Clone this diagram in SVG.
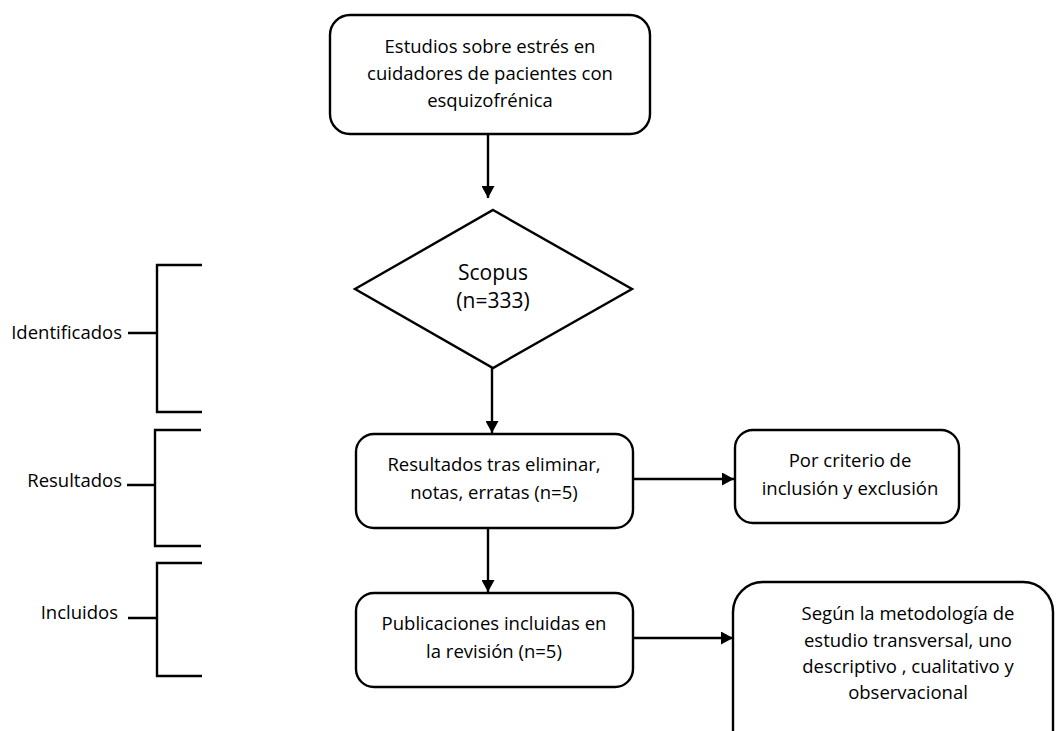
<svg xmlns="http://www.w3.org/2000/svg" width="1057" height="731" viewBox="0 0 1057 731">
<defs>
<style>
.box{fill:#fff;stroke:#000;stroke-width:2.4}
.ln{fill:none;stroke:#000;stroke-width:2.4}
.t{font-family:"Open Sans","Liberation Sans",sans-serif;font-size:18.5px;fill:#000;text-anchor:middle}
.tl{font-family:"Open Sans","Liberation Sans",sans-serif;font-size:18.5px;fill:#000;text-anchor:end}
.big{font-size:21px}
</style>
<marker id="ah" markerUnits="userSpaceOnUse" markerWidth="13" markerHeight="13" refX="12" refY="6.5" orient="auto">
<path d="M0,0 L12,6.5 L0,13 Z" fill="#000"/>
</marker>
</defs>
<rect width="1057" height="731" fill="#fff"/>

<g id="connectors">
<line class="ln" x1="488" y1="134" x2="488" y2="198" marker-end="url(#ah)"/>
<line class="ln" x1="492" y1="368" x2="492" y2="433" marker-end="url(#ah)"/>
<line class="ln" x1="633" y1="479" x2="734" y2="479" marker-end="url(#ah)"/>
<line class="ln" x1="488" y1="528" x2="488" y2="592" marker-end="url(#ah)"/>
<line class="ln" x1="633" y1="638" x2="733" y2="638" marker-end="url(#ah)"/>
</g>

<g id="bracket-identificados">
<path class="ln" d="M202,265 H157 V412 H202 M128,333 H157"/>
<text class="tl" x="122" y="339">Identificados</text>
</g>
<g id="bracket-resultados">
<path class="ln" d="M201,430 H155 V546 H201 M127,485 H155"/>
<text class="tl" x="122" y="487">Resultados</text>
</g>
<g id="bracket-incluidos">
<path class="ln" d="M202,563 H157 V676 H202 M128,618 H157"/>
<text class="tl" x="118" y="619">Incluidos</text>
</g>

<g id="node-estudios">
<rect class="box" x="330" y="15" width="320" height="119" rx="20"/>
<text class="t" x="490" y="53">Estudios sobre estrés en</text>
<text class="t" x="490" y="80">cuidadores de pacientes con</text>
<text class="t" x="490" y="107">esquizofrénica</text>
</g>

<g id="node-scopus">
<polygon class="box" points="493,210 632,289 493,368 355,289"/>
<text class="t big" x="493" y="280">Scopus</text>
<text class="t big" x="493" y="308">(n=333)</text>
</g>

<g id="node-resultados">
<rect class="box" x="356" y="434" width="277" height="94" rx="18"/>
<text class="t" x="494" y="471">Resultados tras eliminar,</text>
<text class="t" x="494" y="499">notas, erratas (n=5)</text>
</g>

<g id="node-criterio">
<rect class="box" x="735" y="430" width="224" height="93" rx="18"/>
<text class="t" x="850" y="467">Por criterio de</text>
<text class="t" x="850" y="495">inclusión y exclusión</text>
</g>

<g id="node-publicaciones">
<rect class="box" x="356" y="593" width="277" height="94" rx="18"/>
<text class="t" x="494" y="630">Publicaciones incluidas en</text>
<text class="t" x="494" y="658">la revisión (n=5)</text>
</g>

<g id="node-metodologia">
<rect class="box" x="733" y="582" width="320" height="190" rx="30"/>
<text class="t" x="908" y="620">Según la metodología de</text>
<text class="t" x="908" y="647">estudio transversal, uno</text>
<text class="t" x="908" y="673">descriptivo , cualitativo y</text>
<text class="t" x="908" y="699">observacional</text>
</g>
</svg>
